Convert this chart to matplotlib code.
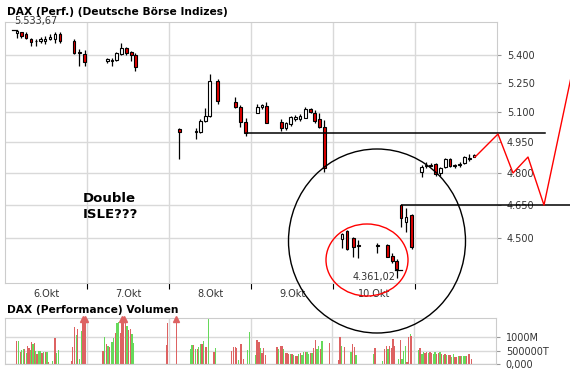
import numpy as np
import matplotlib
matplotlib.use('Agg')
import matplotlib.pyplot as plt
from matplotlib.patches import Ellipse
from matplotlib.ticker import FixedLocator, NullLocator, FuncFormatter

# ---- candles (x in trading days from 6.Okt, 30 min bars) ----
cx = [0.146, 0.199, 0.256, 0.317, 0.378, 0.435, 0.491, 0.549, 0.613, 0.674, 0.841, 0.906, 0.972,
      1.248, 1.305, 1.357, 1.418, 1.479, 1.540, 1.589,
      2.126, 2.326, 2.382, 2.443, 2.496, 2.594, 2.809, 2.870, 2.935,
      3.077, 3.134, 3.187, 3.370, 3.430, 3.484, 3.540, 3.598, 3.662, 3.728, 3.777, 3.833, 3.894,
      4.113, 4.174, 4.248, 4.309, 4.540, 4.662, 4.723, 4.777, 4.826, 4.890, 4.960,
      5.082, 5.134, 5.191, 5.252, 5.309, 5.370, 5.430, 5.484, 5.545, 5.601, 5.662, 5.720]
c_open = [5519, 5524, 5513, 5488, 5478, 5477, 5473, 5486, 5487, 5513, 5478, 5410, 5404,
          5370, 5366, 5373, 5405, 5440, 5414, 5400,
          5015, 5000, 5003, 5054, 5082, 5262, 5151, 5129, 5050,
          5098, 5126, 5134, 5050, 5020, 5041, 5067, 5065, 5073, 5116, 5098, 5065, 5028,
          4495, 4531, 4498, 4470, 4463, 4468, 4421, 4398, 4650, 4571, 4604,
          4804, 4837, 4841, 4842, 4800, 4831, 4868, 4837, 4838, 4847, 4870, 4880]
c_high = [5533.67, 5527, 5522, 5494, 5487, 5496, 5505, 5514, 5523, 5522, 5485, 5431, 5427,
          5382, 5382, 5418, 5463, 5445, 5422, 5413,
          5020, 5020, 5065, 5121, 5297, 5272, 5180, 5138, 5070,
          5141, 5143, 5155, 5065, 5053, 5082, 5087, 5092, 5129, 5121, 5112, 5095, 5061,
          4521, 4536, 4505, 4491, 4479, 4473, 4432, 4409, 4653, 4635, 4609,
          4839, 4852, 4849, 4847, 4831, 4875, 4872, 4844, 4852, 4885, 4891, 4891]
c_low = [5494, 5494, 5485, 5450, 5449, 5463, 5460, 5481, 5463, 5467, 5404, 5343, 5343,
         5356, 5341, 5368, 5400, 5400, 5368, 5316,
         4867, 4966, 4998, 5050, 5078, 5141, 5124, 5028, 4981,
         5095, 5116, 5045, 5006, 5011, 5031, 5058, 5058, 5070, 5095, 5048, 5020, 4804,
         4456, 4446, 4417, 4410, 4432, 4414, 4390, 4325, 4551, 4525, 4451,
         4783, 4823, 4834, 4788, 4788, 4826, 4831, 4826, 4831, 4844, 4860, 4876]
c_close = [5530, 5503, 5491, 5469, 5476, 5484, 5486, 5498, 5513, 5473, 5409, 5417, 5364,
           5376, 5375, 5409, 5439, 5409, 5401, 5335,
           5000, 5005, 5056, 5082, 5262, 5158, 5129, 5050, 4998,
           5129, 5136, 5048, 5023, 5045, 5075, 5076, 5083, 5117, 5104, 5056, 5028, 4823,
           4516, 4451, 4461, 4466, 4467, 4417, 4399, 4362, 4589, 4596, 4458,
           4831, 4841, 4837, 4795, 4826, 4868, 4836, 4841, 4845, 4880, 4874, 4887]

hi_label = 5533.67
lo_label = 4361.02

# ---- volume (10 min bars, in millions; 1 = up/green, 0 = down/red) ----
vx = [0.138, 0.163, 0.187, 0.203, 0.224, 0.236, 0.260, 0.272, 0.293, 0.309, 0.321, 0.341, 0.362,
      0.374, 0.390, 0.415, 0.431, 0.451, 0.472, 0.496, 0.512, 0.528, 0.581, 0.610, 0.630, 0.650,
      0.813, 0.829, 0.850, 0.870, 0.890, 0.911, 0.931, 0.955, 0.976,
      1.199, 1.220, 1.240, 1.260, 1.280, 1.309, 1.329, 1.350, 1.370, 1.390, 1.411, 1.431, 1.451,
      1.472, 1.492, 1.512, 1.533, 1.553, 1.573, 1.972, 1.984,
      2.094, 2.264, 2.285, 2.301, 2.325, 2.350, 2.366, 2.386, 2.406, 2.427, 2.455, 2.484, 2.553,
      2.573, 2.772, 2.793, 2.813, 2.833, 2.854, 2.874, 2.894, 2.915, 2.967, 2.984,
      3.061, 3.081, 3.102, 3.122, 3.142, 3.163, 3.183, 3.325, 3.346, 3.366, 3.386, 3.407, 3.427,
      3.447, 3.467, 3.488, 3.508, 3.528, 3.549, 3.569, 3.589, 3.610, 3.630, 3.650, 3.671, 3.691,
      3.711, 3.732, 3.752, 3.772, 3.793, 3.813, 3.833, 3.854, 3.874, 3.963,
      4.077, 4.094, 4.114, 4.146, 4.228, 4.248, 4.268, 4.289, 4.504, 4.521, 4.614, 4.634, 4.659,
      4.679, 4.699, 4.720, 4.740, 4.756, 4.809, 4.833, 4.850, 4.870, 4.890, 4.911, 4.931, 4.951,
      4.963,
      5.053, 5.073, 5.094, 5.114, 5.134, 5.154, 5.175, 5.195, 5.215, 5.236, 5.256, 5.276, 5.297,
      5.317, 5.337, 5.358, 5.378, 5.398, 5.419, 5.439, 5.459, 5.480, 5.500, 5.520, 5.541, 5.561,
      5.581, 5.602, 5.622, 5.642, 5.671, 5.703]
vol = [868, 868, 465, 528, 566, 566, 403, 679, 616, 528, 830, 755, 805,
       503, 365, 490, 490, 403, 465, 440, 465, 88, 113, 981, 403, 528,
       113, 642, 1384, 1107, 1320, 189, 1258, 2100, 2100,
       490, 1031, 742, 692, 654, 843, 968, 1157, 1535, 1597, 1157, 2100, 2100,
       1597, 1434, 1283, 1320, 1132, 805, 717, 1560,
       2100, 553, 717, 717, 553, 553, 654, 742, 742, 880, 654, 1698, 465,
       591, 503, 654, 654, 616, 151, 755, 755, 176, 528, 1208,
       340, 906, 818, 616, 403, 591, 340, 654, 553, 679, 679, 553, 428,
       403, 365, 365, 365, 340, 302, 302, 365, 428, 340, 465, 465, 465,
       377, 403, 403, 591, 906, 553, 692, 553, 868, 780,
       151, 1031, 679, 629, 465, 755, 654, 340, 377, 591, 113, 553, 679,
       553, 679, 591, 931, 679, 176, 906, 176, 490, 679, 88, 1031, 1132,
       1056,
       528, 591, 377, 465, 403, 465, 428, 465, 403, 365, 465, 377, 403,
       465, 365, 340, 365, 340, 340, 340, 277, 365, 277, 277, 302, 302,
       302, 302, 302, 302, 377, 176]
vup = [0, 1, 0, 1, 1, 0, 1, 0, 0, 1, 0, 1, 0,
       1, 0, 1, 1, 0, 1, 0, 1, 0, 1, 0, 1, 1,
       0, 0, 0, 1, 0, 1, 1, 0, 0,
       0, 1, 0, 1, 0, 1, 1, 0, 1, 1, 0, 0, 0,
       0, 1, 0, 0, 1, 1, 0, 0,
       0, 1, 1, 0, 1, 0, 1, 1, 0, 1, 0, 1, 0,
       1, 0, 0, 0, 0, 1, 0, 0, 0, 1, 1,
       1, 0, 0, 1, 0, 0, 0, 0, 1, 0, 0, 1, 0,
       0, 0, 1, 0, 1, 0, 0, 1, 0, 1, 1, 0, 1,
       1, 0, 1, 0, 0, 1, 1, 0, 1, 0,
       0, 0, 1, 0, 1, 0, 0, 1, 1, 0, 1, 0, 0,
       1, 0, 0, 0, 0, 1, 0, 1, 1, 1, 0, 0, 1,
       0,
       1, 0, 1, 1, 0, 0, 1, 0, 0, 1, 1, 0, 0,
       1, 0, 1, 0, 1, 0, 0, 1, 1, 0, 0, 1, 0,
       1, 1, 1, 0, 0, 0]

day_labels = ['6.Okt', '7.Okt', '8.Okt', '9.Okt', '10.Okt']
price_ticks = [4500, 4650, 4800, 4950, 5100, 5250, 5400]
vol_ticks = [0, 500, 1000]
vol_tick_labels = ['0,000', '500000T', '1000M']

# hand drawn analysis
support_hi = 4996
support_lo = 4650
red_path_x = [5.732, 6.012, 6.195, 6.378, 6.573, 6.902]
red_path_y = [4878, 4991, 4801, 4878, 4650, 5279]

GRID = '#d9d9d9'
TXT = '#333333'
RED = '#e00000'


def de_num(v):
    return f'{v:,.2f}'.replace(',', 'X').replace('.', ',').replace('X', '.')


fig = plt.figure(figsize=(5.7, 3.7), dpi=100)
fig.patch.set_facecolor('white')

ax = fig.add_axes([5/570, 1-283/370, 492/570, 261/370])
ax.set_yscale('log')
ax.set_xlim(0, 6)
ax.set_ylim(4303, 5580)

for s in ax.spines.values():
    s.set_color('#cccccc')
ax.yaxis.tick_right()
ax.yaxis.set_major_locator(FixedLocator(price_ticks))
ax.yaxis.set_minor_locator(NullLocator())
ax.yaxis.set_major_formatter(FuncFormatter(lambda v, p: f'{v:,.0f}'.replace(',', '.')))
ax.tick_params(axis='y', length=3, color='#999999', labelsize=7, labelcolor=TXT, pad=4)
ax.xaxis.set_major_locator(FixedLocator([1, 2, 3, 4, 5]))
ax.xaxis.set_major_formatter(FuncFormatter(lambda v, p: ''))
ax.xaxis.set_minor_locator(FixedLocator([0.5, 1.5, 2.5, 3.5, 4.5]))
ax.set_xticklabels(day_labels, minor=True)
ax.tick_params(axis='x', which='major', length=4, color='black', width=0.8)
ax.tick_params(axis='x', which='minor', length=0, labelsize=7, labelcolor=TXT, pad=4)
ax.grid(True, color=GRID, lw=1)
ax.set_axisbelow(True)

# candles
w = 0.03
for x, o, h, l, c in zip(cx, c_open, c_high, c_low, c_close):
    ax.vlines(x, l, h, color='black', lw=0.9, zorder=2)
    lo, hi = min(o, c), max(o, c)
    ax.bar(x, hi - lo, bottom=lo, width=w, color='white' if c >= o else RED,
           edgecolor='black', lw=0.8, zorder=3)

# high / low labels
ax.plot([cx[0] - 0.06, cx[0]], [hi_label, hi_label], color='black', lw=0.9, zorder=4)
ax.annotate(de_num(hi_label), (cx[0] - 0.03, hi_label), xytext=(0, 3),
            textcoords='offset points', fontsize=7, color=TXT, ha='left', va='bottom')
ax.plot([cx[49] - 0.02, cx[49] + 0.06], [lo_label, lo_label], color='black', lw=0.9, zorder=4)
ax.annotate(de_num(lo_label), (cx[49] - 0.02, lo_label), xytext=(0, -2),
            textcoords='offset points', fontsize=7, color=TXT, ha='right', va='top')

# drawn lines
ax.plot([2.939, 6.585], [support_hi, support_hi], color='black', lw=1.1, clip_on=False, zorder=5)
ax.plot([4.841, 6.95], [support_lo, support_lo], color='black', lw=1.1, clip_on=False, zorder=5)
ax.plot(red_path_x, red_path_y, color='red', lw=1, clip_on=False, zorder=5)

fig.text(7/570, 1-12/370, 'DAX (Perf.) (Deutsche Börse Indizes)', fontsize=7.7, fontweight='bold',
         va='center', ha='left')

# ---- volume panel ----
av = fig.add_axes([5/570, 1-364/370, 491/570, 46/370])
av.set_xlim(0, 6)
av.set_ylim(0, 1735)
for s in av.spines.values():
    s.set_color('#cccccc')
av.yaxis.tick_right()
av.set_yticks(vol_ticks)
av.set_yticklabels(vol_tick_labels)
av.tick_params(axis='y', length=3, color='#999999', labelsize=7, labelcolor=TXT, pad=4)
av.set_xticks([1, 2, 3, 4, 5])
av.tick_params(axis='x', length=0, labelbottom=False)
av.grid(True, color=GRID, lw=1)
av.set_axisbelow(True)
vcol = ['#66d95a' if u else '#dd6262' for u in vup]
av.bar(vx, vol, width=0.016, color=vcol, zorder=2)
over = [(x, c) for x, v, c in zip(vx, vol, vcol) if v > 1735]
for x, c in over:
    av.plot(x, 1700, marker='^', ms=4, color=c, clip_on=False, zorder=3)

fig.text(7/570, 1-310/370, 'DAX (Performance) Volumen', fontsize=7.7, fontweight='bold',
         va='center', ha='left')

# ---- overlay for drawn circles and notes (pixel space) ----
ov = fig.add_axes([0, 0, 1, 1], zorder=10)
ov.set_xlim(0, 570)
ov.set_ylim(370, 0)
ov.axis('off')
ov.patch.set_alpha(0)
ov.add_patch(Ellipse((377, 241), 177, 184, fill=False, ec='black', lw=1))
ov.add_patch(Ellipse((367, 260), 82, 72, fill=False, ec='red', lw=1))
ov.text(83, 192, 'Double\nISLE???', fontsize=9.5, fontweight='bold', va='top', ha='left',
        linespacing=1.25)

fig.savefig('out.png', dpi=100, facecolor='white')
